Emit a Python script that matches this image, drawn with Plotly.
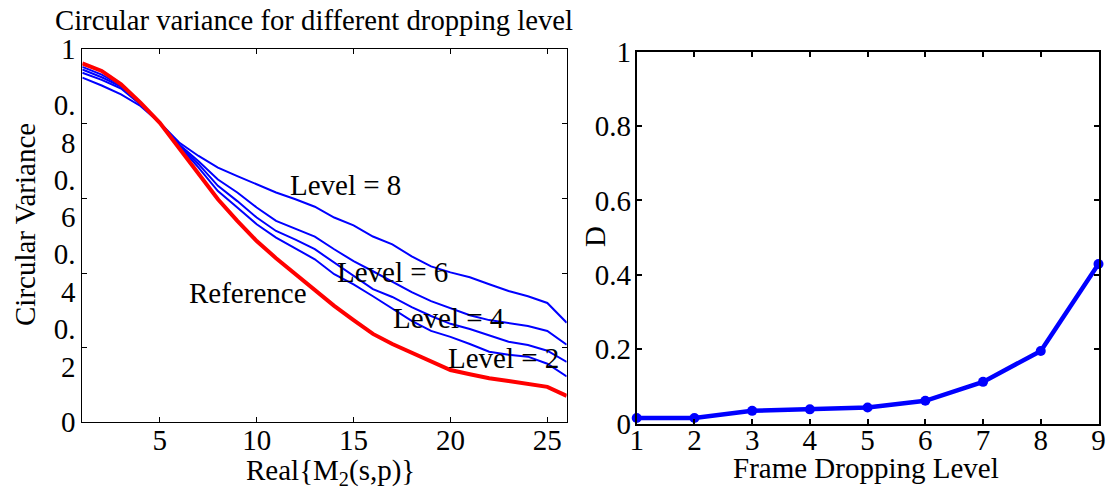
import plotly.graph_objects as go

# ---------------- data ----------------
m2_index = list(range(1, 27))
reference = [0.962, 0.942, 0.906, 0.857, 0.803, 0.736, 0.665, 0.598, 0.540, 0.486,
             0.440, 0.398, 0.355, 0.312, 0.274, 0.237, 0.210, 0.186, 0.162, 0.140,
             0.129, 0.118, 0.111, 0.104, 0.095, 0.071]
level8 = [0.924, 0.903, 0.879, 0.848, 0.803, 0.750, 0.714, 0.683, 0.660, 0.638,
          0.616, 0.598, 0.578, 0.549, 0.528, 0.498, 0.477, 0.445, 0.418, 0.402,
          0.389, 0.370, 0.352, 0.338, 0.320, 0.267]
level6 = [0.937, 0.918, 0.895, 0.852, 0.803, 0.745, 0.700, 0.651, 0.616, 0.576,
          0.540, 0.520, 0.498, 0.464, 0.432, 0.405, 0.378, 0.349, 0.325, 0.306,
          0.287, 0.274, 0.266, 0.258, 0.245, 0.208]
level4 = [0.946, 0.925, 0.900, 0.853, 0.803, 0.742, 0.692, 0.634, 0.593, 0.549,
          0.513, 0.490, 0.464, 0.429, 0.392, 0.357, 0.336, 0.309, 0.285, 0.264,
          0.250, 0.232, 0.216, 0.207, 0.192, 0.162]
level2 = [0.953, 0.932, 0.903, 0.855, 0.803, 0.740, 0.683, 0.620, 0.576, 0.531,
          0.495, 0.465, 0.437, 0.397, 0.370, 0.338, 0.304, 0.272, 0.245, 0.229,
          0.210, 0.189, 0.181, 0.176, 0.157, 0.123]

drop_levels = [1, 2, 3, 4, 5, 6, 7, 8, 9]
d_values = [0.015, 0.015, 0.034, 0.038, 0.043, 0.061, 0.112, 0.195, 0.429]

left_yticks = [0, 0.2, 0.4, 0.6, 0.8, 1]
left_yticktext = ["0", "0.<br>2", "0.<br>4", "0.<br>6", "0.<br>8", "1"]
left_xticks = [5, 10, 15, 20, 25]
right_yticks = [0, 0.2, 0.4, 0.6, 0.8, 1]
right_yticktext = ["0", "0.2", "0.4", "0.6", "0.8", "1"]

curve_labels = [("Level = 8", 14.56, 0.636), ("Level = 6", 17.03, 0.404),
                ("Level = 4", 19.92, 0.279), ("Level = 2", 22.76, 0.172),
                ("Reference", 9.55, 0.347)]

# ---------------- figure ----------------
FONT = "Liberation Serif, Times New Roman, serif"
FS = 29
W, H = 1114, 495
BLUE = "#0000ff"
RED = "#ff0000"

fig = go.Figure()
for ys in (level8, level6, level4, level2):
    fig.add_trace(go.Scatter(x=m2_index, y=ys, mode="lines",
                             line=dict(color=BLUE, width=2),
                             xaxis="x", yaxis="y", showlegend=False))
fig.add_trace(go.Scatter(x=m2_index, y=reference, mode="lines",
                         line=dict(color=RED, width=4),
                         xaxis="x", yaxis="y", showlegend=False))
fig.add_trace(go.Scatter(x=drop_levels, y=d_values, mode="lines+markers",
                         line=dict(color=BLUE, width=4.5),
                         marker=dict(color=BLUE, size=10),
                         xaxis="x2", yaxis="y2", showlegend=False, cliponaxis=False))

def px_x(p):
    return p / W

def px_y(p):
    return 1 - p / H

axis_common = dict(showgrid=False, zeroline=False, showline=True, mirror="ticks",
                   linecolor="black", ticks="inside", tickcolor="black",
                   automargin=False,
                   tickfont=dict(family=FONT, size=FS, color="black"))

fig.update_layout(
    width=W, height=H,
    margin=dict(l=0, r=0, t=0, b=0, pad=0, autoexpand=False),
    paper_bgcolor="white", plot_bgcolor="white",
    font=dict(family=FONT, size=FS, color="black"),
    xaxis=dict(domain=[px_x(82.3), px_x(566.7)], range=[1, 26],
               tickvals=left_xticks, ticklen=5, linewidth=1, tickwidth=1,
               ticklabelstandoff=-8, anchor="y", **axis_common),
    yaxis=dict(domain=[px_y(422.3), px_y(49.3)], range=[0, 1],
               tickvals=left_yticks, ticktext=left_yticktext, ticklen=5,
               linewidth=1, tickwidth=1, anchor="x", **axis_common),
    xaxis2=dict(domain=[px_x(636.7), px_x(1098.5)], range=[1, 9],
                tickvals=drop_levels, ticklen=5, linewidth=2, tickwidth=1.5,
                ticklabelstandoff=-10, anchor="y2", **axis_common),
    yaxis2=dict(domain=[px_y(423.5), px_y(51.7)], range=[0, 1],
                tickvals=right_yticks, ticktext=right_yticktext, ticklen=5,
                linewidth=2, tickwidth=1.5, ticklabelstandoff=-2,
                anchor="x2", **axis_common),
)

annotations = []
for txt, ax_, ay_ in curve_labels:
    annotations.append(dict(text=txt, x=ax_, y=ay_, xref="x", yref="y",
                            showarrow=False, xanchor="center", yanchor="middle",
                            font=dict(family=FONT, size=FS, color="black")))
annotations += [
    dict(text="Circular variance for different dropping level", x=px_x(314), y=px_y(20),
         xref="paper", yref="paper", showarrow=False, xanchor="center", yanchor="middle",
         font=dict(family=FONT, size=28.7, color="black")),
    dict(text="Circular Variance", x=px_x(25), y=px_y(225), xref="paper", yref="paper",
         showarrow=False, textangle=-90, xanchor="center", yanchor="middle",
         font=dict(family=FONT, size=FS, color="black")),
    dict(text="D", x=px_x(595), y=px_y(237), xref="paper", yref="paper",
         showarrow=False, textangle=-90, xanchor="center", yanchor="middle",
         font=dict(family=FONT, size=FS, color="black")),
    dict(text="Real{M<sub>2</sub>(s,p)}", x=px_x(330), y=px_y(472), xref="paper", yref="paper",
         showarrow=False, xanchor="center", yanchor="middle",
         font=dict(family=FONT, size=FS, color="black")),
    dict(text="Frame Dropping Level", x=px_x(866), y=px_y(468), xref="paper", yref="paper",
         showarrow=False, xanchor="center", yanchor="middle",
         font=dict(family=FONT, size=FS, color="black")),
]
fig.update_layout(annotations=annotations)

fig.write_html("out.html")
